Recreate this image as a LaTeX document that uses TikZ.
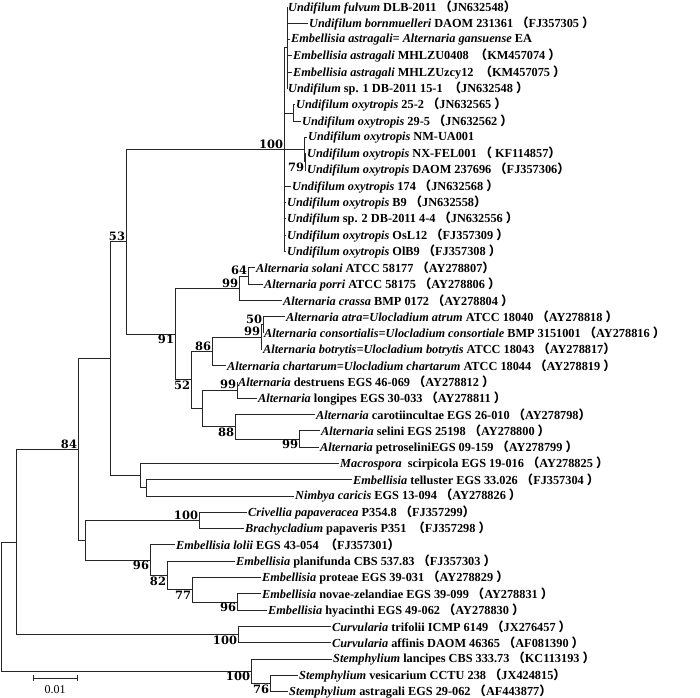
\documentclass[tikz,border=0pt]{standalone}
\usepackage{fontspec}
\setmainfont{Liberation Serif}
\newfontfamily\bsfont{DejaVu Serif}
\newfontfamily\cjk{Noto Sans CJK SC}
\newcommand{\lp}{{\cjk （}}
\newcommand{\rp}{{\cjk ）}}
\tikzset{
  leaf/.style={anchor=west,inner sep=1pt,font=\bfseries\fontsize{12.3}{12.3}\selectfont},
  bsup/.style={anchor=south east,inner sep=0.8pt,font=\bsfont\bfseries\fontsize{11.5}{11.5}\selectfont},
  bsdn/.style={anchor=north east,inner sep=0.8pt,font=\bsfont\bfseries\fontsize{11.5}{11.5}\selectfont},
  br/.style={line width=0.9pt,draw=black!85}
}
\begin{document}
\begin{tikzpicture}[x=1pt,y=-1pt]
\useasboundingbox (0,0) rectangle (700,697);

      \begin{scope}
        \coordinate (R)    at (1,606.6);
        \coordinate (A)    at (16,542);
        \coordinate (B84)  at (78,449.5);
        \coordinate (N110) at (110,358.7);
        \coordinate (N53)  at (126,241.8);
        \coordinate (U0)   at (284,149.6);
        \coordinate (Ua)   at (287,47.8);
        \coordinate (Ub)   at (293,113);
        \coordinate (Um)   at (304,149.6);
        \coordinate (U79)  at (305,161.9);
        \coordinate (A91)  at (175,334);
        \coordinate (A99c) at (239,288.2);
        \coordinate (A64)  at (248,276);
        \coordinate (A52)  at (191,379.9);
        \coordinate (A86)  at (212,351.3);
        \coordinate (A99a) at (261,337.1);
        \coordinate (A50)  at (263,324.9);
        \coordinate (ADL)  at (202,408.4);
        \coordinate (A99d) at (237,390);
        \coordinate (A88)  at (235,426.7);
        \coordinate (A99s) at (299,439);
        \coordinate (J)    at (140,475.6);
        \coordinate (K)    at (146,487.9);
        \coordinate (D)    at (85,540.3);
        \coordinate (C100) at (199,520.5);
        \coordinate (E96)  at (150,560.2);
        \coordinate (F82)  at (167,575.5);
        \coordinate (G77)  at (192,589.7);
        \coordinate (H96)  at (237,602);
        \coordinate (V100) at (238,634.6);
        \coordinate (S100) at (251,671.2);
        \coordinate (S76)  at (270,683.5);
      \end{scope}

      \begin{scope}[every node/.style={leaf}]
        \node (l0)  at (287,7)     {\textit{Undifilum fulvum} DLB-2011 \lp JN632548\rp};
        \node (l1)  at (308,23.3)  {\textit{Undifilum bornmuelleri} DAOM 231361 \lp FJ357305 \rp};
        \node (l2)  at (290,39.6)  {\textit{Embellisia astragali= Alternaria gansuense} EA};
        \node (l3)  at (292,55.9)  {\textit{Embellisia astragali} MHLZU0408 \ \lp KM457074 \rp};
        \node (l4)  at (292,72.2)  {\textit{Embellisia astragali} MHLZUzcy12 \ \lp KM457075 \rp};
        \node (l5)  at (287,88.5)  {\textit{Undifilum} sp. 1 DB-2011 15-1 \ \lp JN632548 \rp};
        \node (l6)  at (295,104.8) {\textit{Undifilum oxytropis} 25-2 \lp JN632565 \rp};
        \node (l7)  at (301,121.1) {\textit{Undifilum oxytropis} 29-5 \lp JN632562 \rp};
        \node (l8)  at (307,137.4) {\textit{Undifilum oxytropis} NM-UA001};
        \node (l9)  at (306,153.7) {\textit{Undifilum oxytropis} NX-FEL001 \lp\ KF114857\rp};
        \node (l10) at (306,170)   {\textit{Undifilum oxytropis} DAOM 237696 \lp FJ357306\rp};
        \node (l11) at (291,186.3) {\textit{Undifilum oxytropis} 174 \lp JN632568 \rp};
        \node (l12) at (286,202.6) {\textit{Undifilum oxytropis} B9 \lp JN632558\rp};
        \node (l13) at (286,218.9) {\textit{Undifilum} sp. 2 DB-2011 4-4 \lp JN632556 \rp};
        \node (l14) at (286,235.2) {\textit{Undifilum oxytropis} OsL12 \lp FJ357309 \rp};
        \node (l15) at (286,251.5) {\textit{Undifilum oxytropis} OlB9 \lp FJ357308 \rp};
        \node (l16) at (255,267.8) {\textit{Alternaria solani} ATCC 58177 \lp AY278807\rp};
        \node (l17) at (263,284.1) {\textit{Alternaria porri} ATCC 58175 \lp AY278806 \rp};
        \node (l18) at (282,300.4) {\textit{Alternaria crassa} BMP 0172 \lp AY278804 \rp};
        \node (l19) at (285,316.7) {\textit{Alternaria atra=Ulocladium atrum} ATCC 18040 \lp AY278818 \rp};
        \node (l20) at (263,333)   {\textit{Alternaria consortialis=Ulocladium consortiale} BMP 3151001 \lp AY278816 \rp};
        \node (l21) at (262,349.3) {\textit{Alternaria botrytis=Ulocladium botrytis} ATCC 18043 \lp AY278817\rp};
        \node (l22) at (226,365.6) {\textit{Alternaria chartarum=Ulocladium chartarum} ATCC 18044 \lp AY278819 \rp};
        \node (l23) at (237,381.9) {\textit{Alternaria} destruens EGS 46-069 \lp AY278812 \rp};
        \node (l24) at (257,398.2) {\textit{Alternaria} longipes EGS 30-033 \lp AY278811 \rp};
        \node (l25) at (315,414.5) {\textit{Alternaria} carotiincultae EGS 26-010 \lp AY278798\rp};
        \node (l26) at (320,430.8) {\textit{Alternaria} selini EGS 25198 \lp AY278800 \rp};
        \node (l27) at (319,447.1) {\textit{Alternaria} petroseliniEGS 09-159 \lp AY278799 \rp};
        \node (l28) at (339,463.4) {\textit{Macrospora} \ scirpicola EGS 19-016 \lp AY278825 \rp};
        \node (l29) at (352,479.7) {\textit{Embellisia} telluster EGS 33.026 \lp FJ357304 \rp};
        \node (l30) at (294,496)   {\textit{Nimbya caricis} EGS 13-094 \lp AY278826 \rp};
        \node (l31) at (247,512.3) {\textit{Crivellia papaveracea} P354.8 \lp FJ357299\rp};
        \node (l32) at (244,528.6) {\textit{Brachycladium} papaveris P351 \ \lp FJ357298 \rp};
        \node (l33) at (175,544.9) {\textit{Embellisia lolii} EGS 43-054 \ \lp FJ357301\rp};
        \node (l34) at (235,561.2) {\textit{Embellisia} planifunda CBS 537.83 \lp FJ357303 \rp};
        \node (l35) at (261,577.5) {\textit{Embellisia} proteae EGS 39-031 \lp AY278829 \rp};
        \node (l36) at (261,593.8) {\textit{Embellisia} novae-zelandiae EGS 39-099 \lp AY278831 \rp};
        \node (l37) at (267,610.1) {\textit{Embellisia} hyacinthi EGS 49-062 \lp AY278830 \rp};
        \node (l38) at (331,626.4) {\textit{Curvularia} trifolii ICMP 6149 \lp JX276457 \rp};
        \node (l39) at (331,642.7) {\textit{Curvularia} affinis DAOM 46365 \lp AF081390 \rp};
        \node (l40) at (332,659)   {\textit{Stemphylium} lancipes CBS 333.73 \lp KC113193 \rp};
        \node (l41) at (298,675.3) {\textit{Stemphylium} vesicarium CCTU 238 \lp JX424815\rp};
        \node (l42) at (288,691.6) {\textit{Stemphylium} astragali EGS 29-062 \lp AF443877\rp};
      \end{scope}

      \begin{scope}[every path/.style={br}]
        \draw (R) |- (A);  \draw (R) |- (S100);
        \draw (A) |- (B84);  \draw (A) |- (V100);
        \draw (B84) |- (N110);  \draw (B84) |- (D);
        \draw (N110) |- (N53);  \draw (N110) |- (J);
        \draw (N53) |- (U0);  \draw (N53) |- (A91);
        \draw (U0) |- (Ua);  \draw (U0) |- (Ub);  \draw (U0) |- (Um);
        \draw (U0) |- (l11);  \draw (U0) |- (l12);  \draw (U0) |- (l13);
        \draw (U0) |- (l14);  \draw (U0) |- (l15);
        \draw (Ua) |- (l0);  \draw (Ua) |- (l1);  \draw (Ua) |- (l2);
        \draw (Ua) |- (l3);  \draw (Ua) |- (l4);  \draw (Ua) |- (l5);
        \draw (Ub) |- (l6);  \draw (Ub) |- (l7);
        \draw (Um) |- (l8);  \draw (Um) |- (U79);
        \draw (U79) |- (l9);  \draw (U79) |- (l10);
        \draw (A91) |- (A99c);  \draw (A91) |- (A52);
        \draw (A99c) |- (A64);  \draw (A99c) |- (l18);
        \draw (A64) |- (l16);  \draw (A64) |- (l17);
        \draw (A52) |- (A86);  \draw (A52) |- (ADL);
        \draw (A86) |- (A99a);  \draw (A86) |- (l22);
        \draw (A99a) |- (A50);  \draw (A99a) |- (l21);
        \draw (A50) |- (l19);  \draw (A50) |- (l20);
        \draw (ADL) |- (A99d);  \draw (ADL) |- (A88);
        \draw (A99d) |- (l23);  \draw (A99d) |- (l24);
        \draw (A88) |- (l25);  \draw (A88) |- (A99s);
        \draw (A99s) |- (l26);  \draw (A99s) |- (l27);
        \draw (J) |- (l28);  \draw (J) |- (K);
        \draw (K) |- (l29);  \draw (K) |- (l30);
        \draw (D) |- (C100);  \draw (D) |- (E96);
        \draw (C100) |- (l31);  \draw (C100) |- (l32);
        \draw (E96) |- (l33);  \draw (E96) |- (F82);
        \draw (F82) |- (l34);  \draw (F82) |- (G77);
        \draw (G77) |- (l35);  \draw (G77) |- (H96);
        \draw (H96) |- (l36);  \draw (H96) |- (l37);
        \draw (V100) |- (l38);  \draw (V100) |- (l39);
        \draw (S100) |- (l40);  \draw (S100) |- (S76);
        \draw (S76) |- (l41);  \draw (S76) |- (l42);
      \end{scope}

      \node (b1)  [bsup] at (U0)   {100};
      \node (b2)  [bsdn] at (U79)  {79};
      \node (b3)  [bsup] at (N53)  {53};
      \node (b4)  [bsdn] at (A91)  {91};
      \node (b5)  [bsup] at (A99c) {99};
      \node (b6)  [bsup] at (A64)  {64};
      \node (b7)  [bsdn] at (A52)  {52};
      \node (b8)  [bsup] at (A86)  {86};
      \node (b9)  [bsup] at (A99a) {99};
      \node (b10) [bsup] at (A50)  {50};
      \node (b11) [bsup] at (A99d) {99};
      \node (b12) [bsdn] at (A88)  {88};
      \node (b13) [bsdn] at (A99s) {99};
      \node (b14) [bsup] at (B84)  {84};
      \node (b15) [bsup] at (C100) {100};
      \node (b16) [bsdn] at (E96)  {96};
      \node (b17) [bsdn] at (F82)  {82};
      \node (b18) [bsdn] at (G77)  {77};
      \node (b19) [bsdn] at (H96)  {96};
      \node (b20) [bsdn] at (V100) {100};
      \node (b21) [bsdn] at (S100) {100};
      \node (b22) [bsdn] at (S76)  {76};

      \coordinate (sb1) at (33,678);
      \coordinate (sb2) at (77,678);
      \draw[br,line width=0.7pt] (sb1) -- (sb2);
      \draw[br,line width=0.7pt] ([yshift=-3pt]sb1) -- ([yshift=3pt]sb1);
      \draw[br,line width=0.7pt] ([yshift=-3pt]sb2) -- ([yshift=3pt]sb2);
      \node (sbl) [font=\fontsize{12}{12}\selectfont,anchor=north] at (55,682) {0.01};

\end{tikzpicture}
\end{document}
